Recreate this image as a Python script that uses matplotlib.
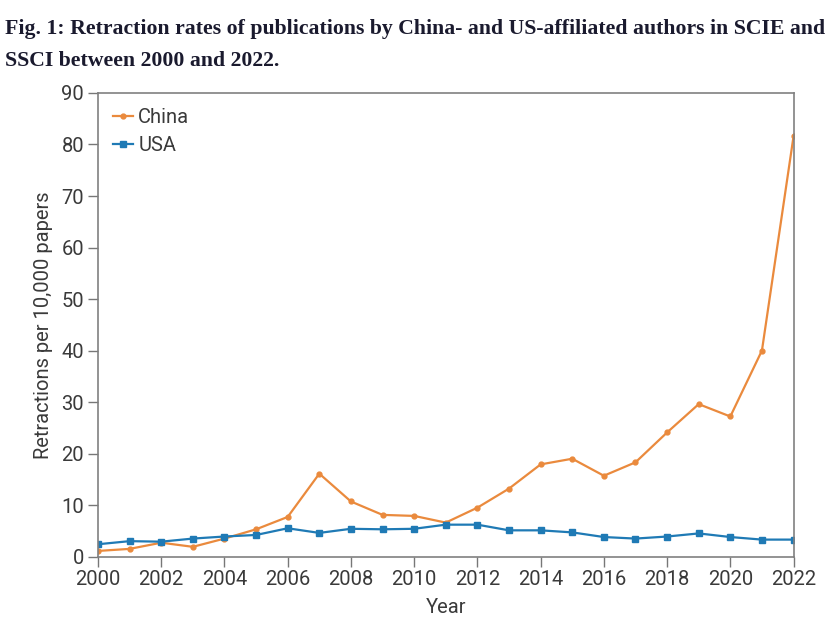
import matplotlib.pyplot as plt

years = list(range(2000, 2023))
china = [1.1, 1.5, 2.7, 1.9, 3.5, 5.3, 7.7, 16.1, 10.7, 8.1, 7.9, 6.6,
         9.5, 13.2, 17.9, 19.0, 15.7, 18.3, 24.1, 29.6, 27.2, 40.0, 81.6]
usa = [2.4, 3.0, 2.9, 3.5, 3.9, 4.2, 5.5, 4.6, 5.4, 5.3, 5.4, 6.2,
       6.2, 5.1, 5.1, 4.7, 3.8, 3.5, 3.9, 4.5, 3.8, 3.3, 3.3]

plt.rcParams['font.family'] = ['Roboto', 'DejaVu Sans']

fig = plt.figure(figsize=(8.34, 6.24), dpi=100)
ax = fig.add_axes([0.1175, 0.108, 0.834, 0.743])

ax.plot(years, china, color='#ea8a3d', marker='o', markersize=3.5, lw=1.6, label='China')
ax.plot(years, usa, color='#1f7ab5', marker='s', markersize=4, lw=1.6, label='USA')

ax.set_xlim(2000, 2022)
ax.set_ylim(0, 90)
ax.set_xticks(range(2000, 2023, 2))
ax.set_yticks(range(0, 91, 10))
ax.tick_params(labelsize=14.5, labelcolor='#3a3a3a', length=7, width=1, direction='out',
               color='#777777', pad=3)
for s in ax.spines.values():
    s.set_color('#808080')
    s.set_linewidth(1.2)

ax.set_xlabel('Year', fontsize=14.5, color='#3a3a3a', labelpad=6)
ax.set_ylabel('Retractions per 10,000 papers', fontsize=14.5, color='#3a3a3a', labelpad=6)

leg = ax.legend(loc='upper left', frameon=False, fontsize=14.5, handlelength=1.0,
                handletextpad=0.25, borderaxespad=0.35, labelspacing=0.45)
for t in leg.get_texts():
    t.set_color('#3a3a3a')

fig.text(0.006, 0.97, 'Fig. 1: Retraction rates of publications by China- and US-affiliated authors in SCIE and\nSSCI between 2000 and 2022.',
         fontsize=15.7, fontweight='bold', family=['Liberation Serif', 'DejaVu Serif'],
         color='#1a1a2e', va='top', ha='left', linespacing=1.8)

fig.savefig('out.png', dpi=100)
